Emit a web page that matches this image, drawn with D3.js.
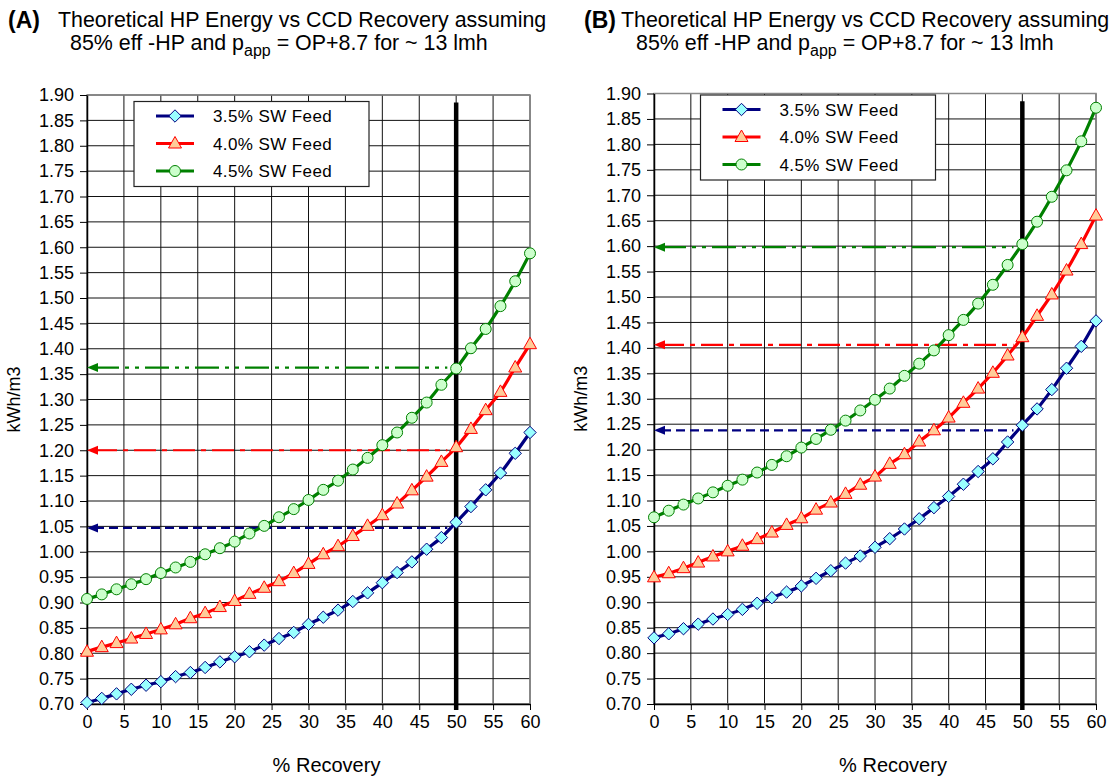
<!DOCTYPE html>
<html>
<head>
<meta charset="utf-8">
<script src="https://cdn.jsdelivr.net/npm/d3@7"></script>
<style>
  body { margin: 0; background: #fff; }
  svg { display: block; }
  text { font-family: Arial, "Liberation Sans", sans-serif; fill: #000; }
</style>
</head>
<body>
<svg id="chart" width="1113" height="778"></svg>
<script>
// ── Data ─────────────────────────────────────────────────────────────────────
const recovery = [0, 2, 4, 6, 8, 10, 12, 14, 16, 18, 20, 22, 24, 26, 28, 30,
                  32, 34, 36, 38, 40, 42, 44, 46, 48, 50, 52, 54, 56, 58, 60];
const xTicks = [0, 5, 10, 15, 20, 25, 30, 35, 40, 45, 50, 55, 60];
const yTicks = [0.70, 0.75, 0.80, 0.85, 0.90, 0.95, 1.00, 1.05, 1.10, 1.15, 1.20, 1.25,
                1.30, 1.35, 1.40, 1.45, 1.50, 1.55, 1.60, 1.65, 1.70, 1.75, 1.80, 1.85, 1.90];
const seriesNames = ["3.5% SW Feed", "4.0% SW Feed", "4.5% SW Feed"];

// panel A
const a35 = [0.703, 0.711, 0.720, 0.729, 0.737, 0.744, 0.754, 0.762, 0.772, 0.783, 0.793,
             0.803, 0.816, 0.829, 0.841, 0.857, 0.871, 0.885, 0.902, 0.919, 0.939,
             0.959, 0.980, 1.005, 1.028, 1.058, 1.089, 1.122, 1.155, 1.194, 1.235];
const a40 = [0.803, 0.812, 0.820, 0.829, 0.838, 0.847, 0.857, 0.869, 0.879, 0.891, 0.903,
             0.917, 0.929, 0.942, 0.958, 0.976, 0.995, 1.011, 1.031, 1.051, 1.072,
             1.095, 1.121, 1.148, 1.177, 1.206, 1.242, 1.279, 1.315, 1.363, 1.409];
const a45 = [0.907, 0.916, 0.926, 0.936, 0.946, 0.958, 0.969, 0.980, 0.995, 1.007, 1.020,
             1.036, 1.051, 1.068, 1.084, 1.102, 1.122, 1.140, 1.162, 1.185, 1.210,
             1.235, 1.264, 1.294, 1.329, 1.361, 1.401, 1.439, 1.484, 1.533, 1.588];
const aTargets = [1.047, 1.200, 1.363];

// panel B
const b35 = [0.830, 0.838, 0.848, 0.857, 0.867, 0.876, 0.886, 0.898, 0.909, 0.920, 0.932,
             0.947, 0.962, 0.977, 0.991, 1.008, 1.025, 1.044, 1.064, 1.086, 1.108,
             1.132, 1.157, 1.182, 1.215, 1.248, 1.280, 1.318, 1.360, 1.403, 1.453];
const b40 = [0.949, 0.957, 0.967, 0.978, 0.990, 1.000, 1.011, 1.024, 1.037, 1.052, 1.065,
             1.082, 1.096, 1.113, 1.131, 1.147, 1.172, 1.191, 1.216, 1.238, 1.263,
             1.292, 1.320, 1.351, 1.385, 1.421, 1.463, 1.505, 1.552, 1.604, 1.660];
const b45 = [1.067, 1.080, 1.092, 1.104, 1.116, 1.129, 1.141, 1.155, 1.170, 1.187, 1.204,
             1.221, 1.239, 1.257, 1.277, 1.298, 1.320, 1.345, 1.369, 1.395, 1.425,
             1.455, 1.487, 1.524, 1.563, 1.604, 1.648, 1.697, 1.749, 1.806, 1.872];
const bTargets = [1.238, 1.406, 1.598];

const targetEnd = 48.8;   // where the guide arrows start (near 50 % line)
const designRecovery = 50;

// ── Styles ───────────────────────────────────────────────────────────────────
const styles = [
  { line: "#000080", fill: "#99ffff", marker: "diamond",  dash: "9,5" },
  { line: "#ff0000", fill: "#ffcc99", marker: "triangle", dash: "22,6,5,6" },
  { line: "#008000", fill: "#ccffcc", marker: "circle",   dash: "24,6,4,6,4,6" },
];
const markerPath = {
  diamond:  "M0,-6.2L6.2,0L0,6.2L-6.2,0Z",
  triangle: "M0,-7L6.5,4.5L-6.5,4.5Z",
  circle:   d3.symbol(d3.symbolCircle, 95)(),
};

const svg = d3.select("#chart");

// ── Panel ────────────────────────────────────────────────────────────────────
function drawPanel(p) {
  const x = d3.scaleLinear().domain([0, 60]).range([p.left, p.right]);
  const y = d3.scaleLinear().domain([0.70, 1.90]).range([p.bottom, p.top]);
  const g = svg.append("g");

  // grid
  g.selectAll("line.hgrid").data(yTicks).join("line")
    .attr("class", "hgrid")
    .attr("x1", p.left).attr("x2", p.right)
    .attr("y1", d => y(d)).attr("y2", d => y(d))
    .attr("stroke", "#111").attr("stroke-width", 1);
  g.selectAll("line.vgrid").data(xTicks).join("line")
    .attr("class", "vgrid")
    .attr("x1", d => x(d)).attr("x2", d => x(d))
    .attr("y1", p.top).attr("y2", p.bottom)
    .attr("stroke", "#111").attr("stroke-width", 1);
  g.append("rect")
    .attr("x", p.left).attr("y", p.top)
    .attr("width", p.right - p.left).attr("height", p.bottom - p.top)
    .attr("fill", "none").attr("stroke", "#888").attr("stroke-width", 1.5);

  // axes
  const yAxis = g.append("g")
    .attr("transform", `translate(${p.left},0)`)
    .call(d3.axisLeft(y).tickValues(yTicks).tickFormat(d3.format(".2f"))
      .tickSizeInner(7).tickSizeOuter(0).tickPadding(6));
  const xAxis = g.append("g")
    .attr("transform", `translate(0,${p.bottom})`)
    .call(d3.axisBottom(x).tickValues(xTicks)
      .tickSizeInner(6).tickSizeOuter(0).tickPadding(5));
  [yAxis, xAxis].forEach(a => {
    a.selectAll("path.domain").attr("stroke", "#000").attr("stroke-width", 1.5);
    a.selectAll(".tick line").attr("stroke", "#000");
    a.selectAll("text").attr("font-size", 18).attr("font-family", null).attr("fill", "#000");
  });

  // axis titles
  g.append("text")
    .attr("transform", `translate(${p.left - 67},${(p.top + p.bottom) / 2}) rotate(-90)`)
    .attr("text-anchor", "middle").attr("font-size", 18)
    .text("kWh/m3");
  g.append("text")
    .attr("x", (p.left + p.right) / 2 + 18).attr("y", 772)
    .attr("text-anchor", "middle").attr("font-size", 20)
    .text("% Recovery");

  // guide lines from the 50 % crossing back to the axis
  p.targets.forEach((v, i) => {
    const st = styles[i];
    g.append("line")
      .attr("x1", x(0) + 8).attr("x2", x(targetEnd))
      .attr("y1", y(v)).attr("y2", y(v))
      .attr("stroke", st.line).attr("stroke-width", 2.2)
      .attr("stroke-dasharray", st.dash);
    g.append("path")
      .attr("d", `M${x(0)},${y(v)}L${x(0) + 11},${y(v) - 4.5}L${x(0) + 11},${y(v) + 4.5}Z`)
      .attr("fill", st.line);
  });

  // design recovery marker
  g.append("line")
    .attr("x1", x(designRecovery)).attr("x2", x(designRecovery))
    .attr("y1", y(1.885)).attr("y2", p.bottom + 6)
    .attr("stroke", "#000").attr("stroke-width", 4.5);

  // series
  const line = d3.line().x((d, i) => x(recovery[i])).y(d => y(d)).curve(d3.curveMonotoneX);
  p.series.forEach((vals, i) => {
    const st = styles[i];
    g.append("path").datum(vals)
      .attr("d", line)
      .attr("fill", "none").attr("stroke", st.line).attr("stroke-width", 3.2);
    g.selectAll(`path.m${i}`).data(vals).join("path")
      .attr("class", `m${i}`)
      .attr("transform", (d, j) => `translate(${x(recovery[j])},${y(d)})`)
      .attr("d", markerPath[st.marker])
      .attr("fill", st.fill).attr("stroke", st.line).attr("stroke-width", 1);
  });

  // legend
  const lg = g.append("g").attr("transform", `translate(${p.legend[0]},${p.legend[1]})`);
  lg.append("rect").attr("width", 235).attr("height", 85)
    .attr("fill", "#fff").attr("stroke", "#222").attr("stroke-width", 1.2);
  seriesNames.forEach((name, i) => {
    const st = styles[i];
    const ry = 14.5 + i * 27.5;
    lg.append("line").attr("x1", 22).attr("x2", 60).attr("y1", ry).attr("y2", ry)
      .attr("stroke", st.line).attr("stroke-width", 3.2);
    lg.append("path").attr("transform", `translate(41,${ry})`)
      .attr("d", markerPath[st.marker])
      .attr("fill", st.fill).attr("stroke", st.line).attr("stroke-width", 1);
    lg.append("text").attr("x", 79).attr("y", ry + 6)
      .attr("font-size", 17).attr("letter-spacing", 0.4).text(name);
  });

  // title
  const t = g.append("g");
  t.append("text").attr("x", p.tagX).attr("y", 28)
    .attr("font-size", 23).attr("font-weight", "bold").text(p.tag);
  t.append("text").attr("x", p.line1X).attr("y", 27)
    .attr("font-size", 21.4).text("Theoretical HP Energy vs CCD Recovery assuming");
  const l2 = t.append("text").attr("x", p.line2X).attr("y", 50).attr("font-size", 21.4);
  l2.append("tspan").text("85% eff -HP and p");
  l2.append("tspan").attr("dy", 6).attr("font-size", 16).text("app");
  l2.append("tspan").attr("dy", -6).text(" = OP+8.7 for ~ 13 lmh");
}

drawPanel({
  tag: "(A)", tagX: 8, line1X: 58, line2X: 70,
  left: 87, right: 530, top: 95, bottom: 704,
  series: [a35, a40, a45], targets: aTargets,
  legend: [134, 101.5],
});
drawPanel({
  tag: "(B)", tagX: 584, line1X: 621, line2X: 636,
  left: 654, right: 1096, top: 93.5, bottom: 704,
  series: [b35, b40, b45], targets: bTargets,
  legend: [700.5, 95],
});
</script>
</body>
</html>
